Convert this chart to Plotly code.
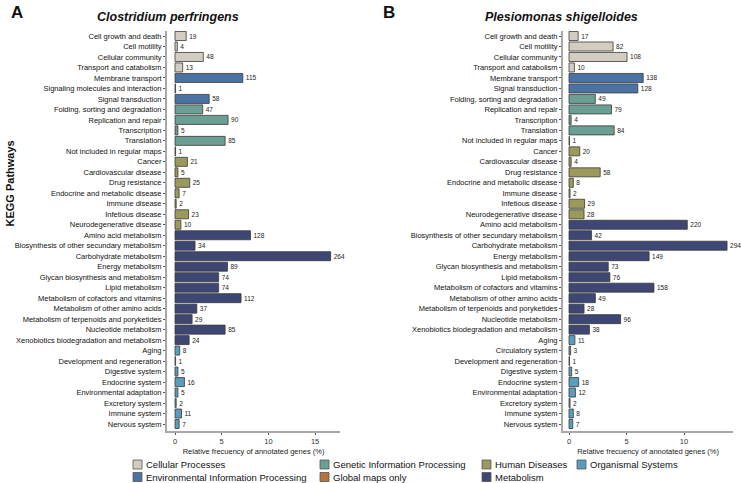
import plotly.graph_objects as go

W, H = 741, 483

left_title = "Clostridium perfringens"
right_title = "Plesiomonas shigelloides"

left_categories = [
    "Cell growth and death", "Cell motility", "Cellular community", "Transport and catabolism",
    "Membrane transport", "Signaling molecules and interaction", "Signal transduction",
    "Folding, sorting and degradation", "Replication and repair", "Transcription", "Translation",
    "Not included in regular maps",
    "Cancer", "Cardiovascular disease", "Drug resistance", "Endocrine and metabolic disease",
    "Immune disease", "Infetious disease", "Neurodegenerative disease",
    "Amino acid metabolism", "Biosynthesis of other secundary metabolism", "Carbohydrate metabolism",
    "Energy metabolism", "Glycan biosynthesis and metabolism", "Lipid metabolism",
    "Metabolism of cofactors and vitamins", "Metabolism of other amino acids",
    "Metabolism of terpenoids and poryketides", "Nucleotide metabolism",
    "Xenobiotics biodegradation and metabolism",
    "Aging", "Development and regeneration", "Digestive system", "Endocrine system",
    "Environmental adaptation", "Excretory system", "Immune system", "Nervous system",
]
left_counts = [19, 4, 48, 13, 115, 1, 58, 47, 90, 5, 85, 1, 21, 5, 25, 7, 2, 23, 10,
               128, 34, 264, 89, 74, 74, 112, 37, 29, 85, 24, 8, 1, 5, 16, 5, 2, 11, 7]
left_groups = (["Cellular Processes"] * 4 + ["Environmental Information Processing"] * 3 +
               ["Genetic Information Processing"] * 4 + ["Global maps only"] +
               ["Human Diseases"] * 7 + ["Metabolism"] * 11 + ["Organismal Systems"] * 8)

right_categories = [
    "Cell growth and death", "Cell motility", "Cellular community", "Transport and catabolism",
    "Membrane transport", "Signal transduction",
    "Folding, sorting and degradation", "Replication and repair", "Transcription", "Translation",
    "Not included in regular maps",
    "Cancer", "Cardiovascular disease", "Drug resistance", "Endocrine and metabolic disease",
    "Immune disease", "Infetious disease", "Neurodegenerative disease",
    "Amino acid metabolism", "Biosynthesis of other secundary metabolism", "Carbohydrate metabolism",
    "Energy metabolism", "Glycan biosynthesis and metabolism", "Lipid metabolism",
    "Metabolism of cofactors and vitamins", "Metabolism of other amino acids",
    "Metabolism of terpenoids and poryketides", "Nucleotide metabolism",
    "Xenobiotics biodegradation and metabolism",
    "Aging", "Circulatory system", "Development and regeneration", "Digestive system",
    "Endocrine system", "Environmental adaptation", "Excretory system", "Immune system",
    "Nervous system",
]
right_counts = [17, 82, 108, 10, 138, 128, 49, 79, 4, 84, 1, 20, 4, 58, 8, 2, 29, 28,
                220, 42, 294, 149, 73, 76, 158, 49, 28, 96, 38, 11, 3, 1, 5, 18, 12, 2, 8, 7]
right_groups = (["Cellular Processes"] * 4 + ["Environmental Information Processing"] * 2 +
                ["Genetic Information Processing"] * 4 + ["Global maps only"] +
                ["Human Diseases"] * 7 + ["Metabolism"] * 11 + ["Organismal Systems"] * 9)

x_ticks = [0, 5, 10, 15]
x_title = "Relative frecuency of annotated genes (%)"
y_title = "KEGG Pathways"

group_colors = {
    "Cellular Processes": "#d3ccc1",
    "Environmental Information Processing": "#4a73a3",
    "Genetic Information Processing": "#6b9f93",
    "Global maps only": "#b8733a",
    "Human Diseases": "#9b9a5c",
    "Metabolism": "#3e4674",
    "Organismal Systems": "#5b9dbb",
}
legend_columns = [
    ["Cellular Processes", "Environmental Information Processing"],
    ["Genetic Information Processing", "Global maps only"],
    ["Human Diseases", "Metabolism"],
    ["Organismal Systems"],
]

FONT = "Liberation Sans, Arial, sans-serif"


def px_x(p):
    return p / W


def px_y(p):
    return 1 - p / H


fig = go.Figure()

panels = [
    (left_categories, left_counts, left_groups, "x", "y"),
    (right_categories, right_counts, right_groups, "x2", "y2"),
]
for cats, counts, groups, xa, ya in panels:
    total = sum(counts)
    pct = [c / total * 100 for c in counts]
    fig.add_trace(go.Bar(
        x=pct, y=cats, orientation="h", xaxis=xa, yaxis=ya,
        marker=dict(color=[group_colors[g] for g in groups],
                    line=dict(color="#3a3a3a", width=0.8)),
        width=0.86,
        text=[str(c) for c in counts], textposition="outside",
        textfont=dict(size=6.5, color="#222", family=FONT),
        constraintext="none", cliponaxis=False,
        showlegend=False, hoverinfo="x+y",
    ))

row_top, row_bot = 36.0, 424.0
n = len(left_categories)
ppu = (row_bot - row_top) / (n - 1)
y_top_px, y_bot_px = 31.0, 431.0
y_range = [(n - 1) + (y_bot_px - row_bot) / ppu, -(row_top - y_top_px) / ppu]
y_dom = [px_y(y_bot_px), px_y(y_top_px)]

axis_common_y = dict(
    type="category", range=y_range, autorange=False, domain=y_dom,
    showline=True, linecolor="#a8a8a8", linewidth=2, ticks="outside", ticklen=2,
    tickcolor="#555", tickwidth=0.8, showgrid=False, zeroline=False,
    tickfont=dict(size=7.5, color="#111", family=FONT),
)
axis_common_x = dict(
    showline=True, linecolor="#a8a8a8", linewidth=1.5, ticks="outside", ticklen=2,
    tickcolor="#555", tickwidth=0.8, showgrid=False, zeroline=False,
    tickvals=x_ticks, tickfont=dict(size=7.5, color="#333", family=FONT),
    title=dict(text=x_title, font=dict(size=7.5, color="#222", family=FONT), standoff=4),
)

lppu = 46.7 / 5
rppu = 57.5 / 5

fig.update_layout(
    width=W, height=H, margin=dict(l=0, r=0, t=0, b=0),
    paper_bgcolor="white", plot_bgcolor="white",
    bargap=0.14,
    xaxis=dict(domain=[px_x(167), px_x(340)], anchor="y",
               range=[-(175 - 167) / lppu, (340 - 175) / lppu], **axis_common_x),
    yaxis=dict(anchor="x", categoryarray=left_categories, **axis_common_y),
    xaxis2=dict(domain=[px_x(563), px_x(733)], anchor="y2",
                range=[-(569 - 563) / rppu, (733 - 569) / rppu], **axis_common_x),
    yaxis2=dict(anchor="x2", categoryarray=right_categories, **axis_common_y),
)

annotations = [
    dict(text="<b>A</b>", x=px_x(9), y=px_y(12), xanchor="left", yanchor="middle",
         font=dict(size=17, color="#111", family=FONT)),
    dict(text="<b>B</b>", x=px_x(381), y=px_y(12), xanchor="left", yanchor="middle",
         font=dict(size=17, color="#111", family=FONT)),
    dict(text="<b><i>" + left_title + "</i></b>", x=px_x(168), y=px_y(16.5),
         xanchor="center", yanchor="middle", font=dict(size=12.5, color="#111", family=FONT)),
    dict(text="<b><i>" + right_title + "</i></b>", x=px_x(561.5), y=px_y(16.5),
         xanchor="center", yanchor="middle", font=dict(size=12.5, color="#111", family=FONT)),
    dict(text="<b>" + y_title + "</b>", x=px_x(9.5), y=px_y(184), textangle=-90,
         xanchor="center", yanchor="middle", font=dict(size=11, color="#111", family=FONT)),
]

shapes = []
col_x = [133, 320, 482, 577]
row_y = [464.5, 477.0]
sw = 9
for ci, col in enumerate(legend_columns):
    for ri, name in enumerate(col):
        x0 = col_x[ci]
        yc = row_y[ri]
        shapes.append(dict(type="rect", xref="paper", yref="paper",
                           x0=px_x(x0), x1=px_x(x0 + sw),
                           y0=px_y(yc + sw / 2), y1=px_y(yc - sw / 2),
                           fillcolor=group_colors[name], line=dict(color="#555", width=0.8)))
        annotations.append(dict(text=name, x=px_x(x0 + sw + 1.5), y=px_y(yc),
                                xanchor="left", yanchor="middle",
                                font=dict(size=9.5, color="#111", family=FONT)))

for a in annotations:
    a.setdefault("xref", "paper")
    a.setdefault("yref", "paper")
    a.setdefault("showarrow", False)

fig.update_layout(annotations=annotations, shapes=shapes)

fig.write_html("out.html", config={"displayModeBar": False},
               post_script="document.body.style.margin='0px';")
